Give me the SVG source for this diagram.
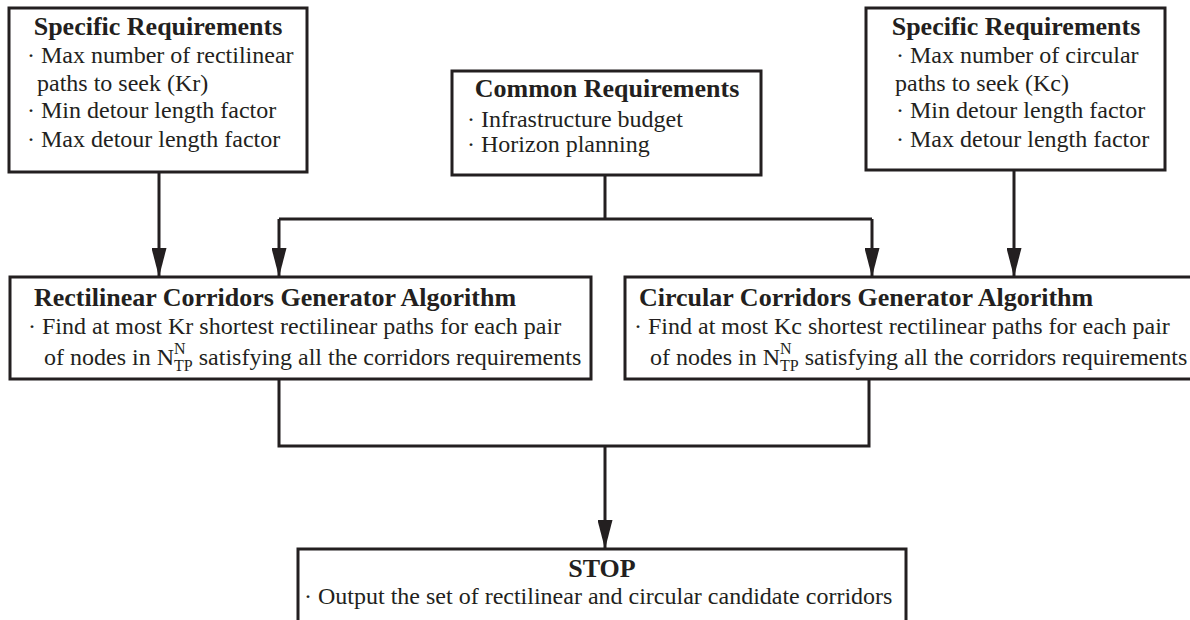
<svg xmlns="http://www.w3.org/2000/svg" width="1190" height="620" viewBox="0 0 1190 620">
  <style>
    .box { fill: #ffffff; stroke: #231f20; stroke-width: 3; }
    .wire { fill: none; stroke: #231f20; stroke-width: 3; }
    .title { font-family: "Liberation Serif", "Times New Roman", serif; font-weight: bold; font-size: 26px; fill: #231f20; }
    .body { font-family: "Liberation Serif", "Times New Roman", serif; font-size: 24px; fill: #231f20; }
    .mid { text-anchor: middle; }
  </style>
  <defs>
    <marker id="arrow" viewBox="0 0 29 15" refX="29" refY="7.5" markerWidth="29" markerHeight="15" markerUnits="userSpaceOnUse" orient="auto">
      <path d="M0,0 L29,7.5 L0,15 z" fill="#231f20"/>
    </marker>
  </defs>

  <rect width="1190" height="620" fill="#ffffff"/>

  <!-- connectors -->
  <g id="connectors">
    <path class="wire" d="M159,172 V277" marker-end="url(#arrow)"/>
    <path class="wire" d="M1014,170 V277" marker-end="url(#arrow)"/>
    <path class="wire" d="M605,175 V219"/>
    <path class="wire" d="M279,219 H872"/>
    <path class="wire" d="M279,219 V277" marker-end="url(#arrow)"/>
    <path class="wire" d="M872,219 V277" marker-end="url(#arrow)"/>
    <path class="wire" d="M279,379 V446 H869 V379"/>
    <path class="wire" d="M605,446 V549" marker-end="url(#arrow)"/>
  </g>

  <!-- rectilinear specific requirements -->
  <g id="spec-rect">
    <rect class="box" x="9" y="8" width="298" height="164"/>
    <text class="title mid" x="158" y="35">Specific Requirements</text>
    <text class="body" x="27" y="63">· Max number of rectilinear</text>
    <text class="body" x="37" y="91">paths to seek (Kr)</text>
    <text class="body" x="27" y="118">· Min detour length factor</text>
    <text class="body" x="27" y="147">· Max detour length factor</text>
  </g>

  <!-- circular specific requirements -->
  <g id="spec-circ">
    <rect class="box" x="866" y="8" width="299" height="162"/>
    <text class="title mid" x="1016" y="35">Specific Requirements</text>
    <text class="body" x="896" y="63">· Max number of circular</text>
    <text class="body" x="895" y="91">paths to seek (Kc)</text>
    <text class="body" x="896" y="118">· Min detour length factor</text>
    <text class="body" x="896" y="147">· Max detour length factor</text>
  </g>

  <!-- common requirements -->
  <g id="common">
    <rect class="box" x="452" y="71" width="309" height="104"/>
    <text class="title mid" x="607" y="97">Common Requirements</text>
    <text class="body" x="467" y="127">· Infrastructure budget</text>
    <text class="body" x="467" y="152">· Horizon planning</text>
  </g>

  <!-- rectilinear generator -->
  <g id="gen-rect">
    <rect class="box" x="10" y="277" width="581" height="102"/>
    <text class="title" x="34" y="306">Rectilinear Corridors Generator Algorithm</text>
    <text class="body" x="28" y="334">· Find at most Kr shortest rectilinear paths for each pair</text>
    <text class="body" x="44" y="365">of nodes in N<tspan font-size="16" dy="-11">N</tspan><tspan font-size="16" dx="-11.5" dy="17">TP</tspan><tspan dy="-6"> satisfying all the corridors requirements</tspan></text>
  </g>

  <!-- circular generator -->
  <g id="gen-circ">
    <rect class="box" x="625" y="277" width="580" height="102"/>
    <text class="title" x="639" y="306">Circular Corridors Generator Algorithm</text>
    <text class="body" x="634" y="334">· Find at most Kc shortest rectilinear paths for each pair</text>
    <text class="body" x="650" y="365">of nodes in N<tspan font-size="16" dy="-11">N</tspan><tspan font-size="16" dx="-11.5" dy="17">TP</tspan><tspan dy="-6"> satisfying all the corridors requirements</tspan></text>
  </g>

  <!-- stop -->
  <g id="stop">
    <rect class="box" x="298" y="549" width="608" height="80"/>
    <text class="title mid" x="602" y="577">STOP</text>
    <text class="body" x="304" y="604">· Output the set of rectilinear and circular candidate corridors</text>
  </g>
</svg>
